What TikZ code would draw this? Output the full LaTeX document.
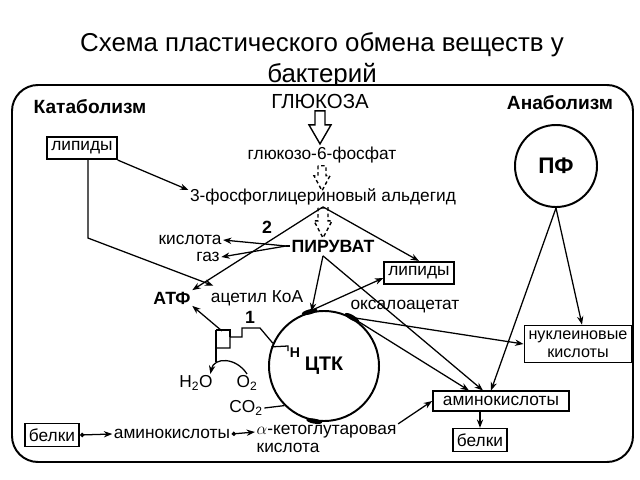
\documentclass[tikz,border=0pt]{standalone}
\usepackage{fontspec}
\setmainfont{Liberation Sans}
\usetikzlibrary{arrows.meta,calc,positioning}

\begin{document}
\begin{tikzpicture}[
    x=0.025cm, y=-0.025cm,
    >=Stealth,
    every node/.style={font=\fontsize{12.3}{14}\selectfont, inner sep=1pt},
    box/.style={draw, line width=1.2pt, inner xsep=3pt, inner ysep=3.5pt},
    hd/.style={font=\fontsize{12.6}{14}\selectfont\bfseries},
    side/.style={font=\fontsize{13.6}{15}\selectfont\bfseries},
    cyc/.style={circle, draw, line width=1.4pt, font=\fontsize{14}{16}\selectfont\bfseries},
    arr/.style={->, line width=0.9pt, >={Stealth[length=6pt,width=4.5pt]}},
    dotarr/.style={{Circle[length=3pt]}->, line width=0.9pt, >={Stealth[length=6pt,width=4.5pt]}},
    harr/.style={line width=1pt, fill=white, line join=miter},
    ln/.style={line width=0.9pt},
  ]
  \useasboundingbox (0,0) rectangle (640,480);
  % title
  \node[font=\fontsize{18.4}{22}\selectfont] (title1) at (322,45) {Схема пластического обмена веществ у};
  \node[font=\fontsize{18.4}{22}\selectfont] (title2) at (322,76) {бактерий};
  \draw[line width=1.4pt, fill=white, rounded corners=0.65cm] (12,85) rectangle (633,462);

  \node[side, anchor=west] (kat) at (32,107) {Катаболизм};
  \node[side] (anab) at (560,103) {Анаболизм};

  % glycolysis
  \node[font=\fontsize{14.5}{16}\selectfont] (glu) at (320,101) {ГЛЮКОЗА};
  \node (g6f) at (322,155) {глюкозо-6-фосфат};
  \node (fga) at (323,197) {3-фосфоглицериновый альдегид};
  \node[hd] (pir) at (333,246) {ПИРУВАТ};
  \node[hd] (num2) at (267,227) {2};
  \node (acid) at (190,240) {кислота};
  \node (gas) at (208,257) {газ};
  \node[hd] (atf) at (172,298) {АТФ};
  \node (acoa) at (257,298) {ацетил КоА};
  \node[box] (lipL) at (82,148) {липиды};
  \node[box] (lipR) at (419,273) {липиды};
  \node (oxa) at (405,307) {оксалоацетат};

  \draw[harr] ($(glu.south)+(-5,1)$) -- ++(0,14) -- ++(-6,0) -- ++(11,19) -- ++(11,-19) -- ++(-6,0) -- ++(0,-14) -- cycle;
  \draw[harr, dash pattern=on 2.5pt off 2pt] ($(g6f.south)+(-4,1)$) -- ++(0,10) -- ++(-4,0) -- ++(8,15) -- ++(8,-15) -- ++(-4,0) -- ++(0,-10) -- cycle;
  \draw[harr, dash pattern=on 2.5pt off 2pt] ($(fga.south)+(-5,1)$) -- ++(0,13) -- ++(-4,0) -- ++(9,17) -- ++(9,-17) -- ++(-4,0) -- ++(0,-13) -- cycle;

  % cycles
  \node[cyc, minimum size=2.75cm] (ctk) at (324,366) {ЦТК};
  \node[cyc, minimum size=2.05cm, font=\fontsize{16}{18}\selectfont\bfseries] (pf) at (556,166) {ПФ};
  \fill[shift={(ctk.105)}, rotate=15] (0,0) ellipse (8 and 2.5);
  \fill[shift={(ctk.60)}, rotate=-30] (0,0) ellipse (8 and 2.5);
  \fill[shift={(ctk.-100)}, rotate=-10] (0,0) ellipse (8 and 2.5);

  % products
  \node[box, align=center, font=\fontsize{11.5}{13}\selectfont] (nuc) at (578,344) {нуклеиновые\\кислоты};
  \node[box, minimum width=3.4cm] (amR) at (501,401) {аминокислоты};
  \node[box] (belR) at (480,440) {белки};
  \node[box] (belL) at (52,435) {белки};
  \node (amL) at (172,434) {аминокислоты};
  \node[anchor=west] (akg) at (255,432) {$\alpha$-кетоглутаровая};
  \node[anchor=north west, inner sep=1pt] (akg2) at ($(akg.south west)+(0,1)$) {кислота};
  \node (co2) at (246,408) {CO\textsubscript{2}};
  \node (h2o) at (196,383) {H\textsubscript{2}O};
  \node (o2) at (247,383) {O\textsubscript{2}};
  \node[hd] (num1) at (250,317) {1};
  \node[font=\fontsize{10}{12}\selectfont\bfseries] (hyd) at (295,353) {H};

  % catabolism
  \draw[arr] (lipL.south east) -- ($(fga.west)+(0,-7)$);
  \draw[arr] ($(lipL.south)+(6,0)$) -- ++(0,78) -- ($(acoa.north west)+(4,-3)$);
  \coordinate (fork) at ($(pir.west)+(-4,0)$);
  \draw[ln] (pir.west) -- (fork);
  \draw[arr] (fork) -- (acid.east);
  \draw[arr] (fork) -- (gas.east);
  \draw[arr] (fga.south) -- (atf.north east);
  \draw[arr] (fga.south) -- (lipR.north);
  \coordinate (pirS) at ($(pir.south)+(-10,2)$);
  \draw[arr] (pirS) -- (ctk.103);
  \draw[arr] (pirS) -- ($(amR.north)+(-18,0)$);
  \draw[arr] (ctk.110) -- ($(lipR.west)+(0,5)$);
  \draw[arr] (ctk.60) -- (nuc.west);
  \draw[arr] (ctk.60) -- ($(amR.north)+(-32,0)$);
  \draw[arr] (pf.south) -- ($(nuc.north)+(4,0)$);
  \draw[arr] (pf.south) -- ($(amR.north)+(-10,0)$);
  \draw[arr] (akg.north east) -- (amR.west);
  \draw[arr] (amR.south -| belR.north) -- (belR.north);
  \draw[dotarr] (belL.east) -- (amL.west);
  \draw[dotarr] (amL.east) -- (akg.west);
  \draw[ln] (co2.east) -- (ctk.225);

  % respiratory chain
  \draw[ln] (ctk.156) -- (260,328) -- (242,328) -- (242,337) -- (230,337) -- (230,348) -- (216,348);
  \draw[ln] (216,330) -- (230,330) -- (230,337);
  \draw[ln] (216,330) -- (216,362);
  \draw[ln] (ctk.160) -- (288,346) -- (288,351);
  \draw[arr] (222,331) -- (atf.south east);
  \draw[arr] (o2.north) .. controls (236,357) and (214,357) .. ($(h2o.north east)+(-4,0)$);
\end{tikzpicture}
\end{document}
